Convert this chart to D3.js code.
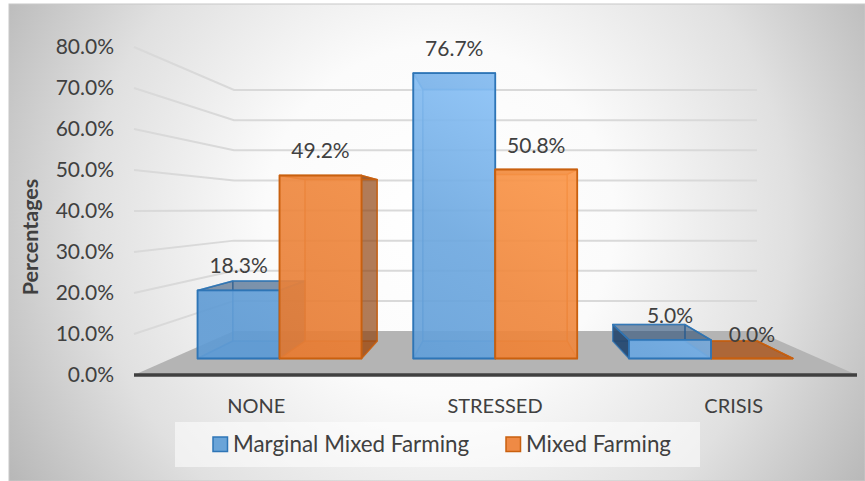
<!DOCTYPE html>
<html>
<head>
<meta charset="utf-8">
<script src="https://cdn.jsdelivr.net/npm/d3@7/dist/d3.min.js"></script>
<style>
html,body{margin:0;padding:0;background:#fff}
svg{display:block}
text{font-family:Lato,"Open Sans",sans-serif;fill:#404040}
</style>
</head>
<body>
<div id="chart"></div>
<script>
const categories = ["NONE", "STRESSED", "CRISIS"];
const seriesNames = ["Marginal Mixed Farming", "Mixed Farming"];
const marginalMixed = [18.3, 76.7, 5.0];
const mixedFarming = [49.2, 50.8, 0.0];
const valueTicks = [0, 10, 20, 30, 40, 50, 60, 70, 80];

const width = 865, height = 481;
const svg = d3.select("#chart").append("svg").attr("width", width).attr("height", height);
const defs = svg.append("defs");

// Panel background: soft radial sheen
const sheen = defs.append("radialGradient").attr("id", "sheen")
  .attr("gradientUnits", "userSpaceOnUse").attr("cx", 440).attr("cy", 220).attr("r", 500);
[[0, "#ffffff"], [0.35, "#fbfbfb"], [0.7, "#e0e0e0"], [1, "#b8b8b8"]].forEach(([o, c]) =>
  sheen.append("stop").attr("offset", o).attr("stop-color", c));

// Bar fronts brighten towards the upper right of the plot
function diagonalFill(id, stops) {
  const g = defs.append("linearGradient").attr("id", id)
    .attr("gradientUnits", "userSpaceOnUse")
    .attr("x1", 300).attr("y1", 365).attr("x2", 480).attr("y2", 65);
  stops.forEach(([o, c]) => g.append("stop").attr("offset", o).attr("stop-color", c));
}
diagonalFill("blueFront", [[0, "#5f9bd4"], [0.55, "#6fa9e0"], [1, "#8cc3f8"]]);
diagonalFill("orangeFront", [[0, "#e57c35"], [0.5, "#f0893f"], [1, "#ff9c4e"]]);

svg.append("rect").attr("x", 9).attr("y", 4).attr("width", width - 9).attr("height", height - 4)
  .attr("fill", "url(#sheen)").attr("stroke", "#c8c8c8").attr("stroke-width", 1);

// Depth planes of the 3-D plot: axis plane, bar front, bar back, rear wall
const domain = [0, 80];
const yAxisPlane = d3.scaleLinear().domain(domain).range([375, 47]);
const yWall = d3.scaleLinear().domain(domain).range([331, 90]);
const yBarFront = d3.scaleLinear().domain(domain).range([358.5, 60.9]);
const yBarBack = d3.scaleLinear().domain(domain).range([341, 78.6]);

const bandFront = d3.scaleBand().domain(categories).range([171.7, 818.8]).paddingInner(0.24).paddingOuter(0.12);
const bandBack = d3.scaleBand().domain(categories).range([210, 780]).paddingInner(0.24).paddingOuter(0.12);
const bandLabels = d3.scaleBand().domain(categories).range([137, 853]);

const floorLeftFront = 134, floorRightFront = 857, wallLeft = 234, wallRight = 757;
const line = d3.line();

// Floor
svg.append("path")
  .attr("d", line([[floorLeftFront, yAxisPlane(0)], [wallLeft, yWall(0)], [wallRight, yWall(0)], [floorRightFront, yAxisPlane(0)]]) + "Z")
  .attr("fill", "#b4b4b4");

// Gridlines along the side wall and the rear wall
const grid = svg.append("g").attr("fill", "none").attr("stroke", "#d9d9d9").attr("stroke-width", 2);
valueTicks.filter(t => t > 0).forEach(t => {
  grid.append("path").attr("d", line([[floorLeftFront, yAxisPlane(t)], [wallLeft, yWall(t)], [wallRight, yWall(t)]]));
});

// Value axis labels
svg.append("g").selectAll("text").data(valueTicks).join("text")
  .attr("x", 114).attr("y", d => yAxisPlane(d)).attr("dy", "0.35em")
  .attr("text-anchor", "end").attr("font-size", 21)
  .text(d => d.toFixed(1) + "%");

svg.append("text")
  .attr("transform", "translate(38,237) rotate(-90)")
  .attr("text-anchor", "middle").attr("font-size", 21.5).attr("font-weight", 700)
  .text("Percentages");

const palette = [
  {front: "url(#blueFront)", edge: "#2e75b6", base: "#5b9bd5", dark: "#1f3f66"},
  {front: "url(#orangeFront)", edge: "#c9600f", base: "#ed7d31", dark: "#843c0c"}
];

function drawBar(cat, value, s) {
  const c = palette[s];
  const fw = bandFront.bandwidth() / 2, bw = bandBack.bandwidth() / 2;
  const fl = bandFront(cat) + s * fw, fr = fl + fw;
  const bl = bandBack(cat) + s * bw, br = bl + bw;
  const fy0 = yBarFront(0), fy1 = yBarFront(value), by0 = yBarBack(0), by1 = yBarBack(value);
  const g = svg.append("g").attr("stroke-linejoin", "round");
  const face = (pts, fill, op, strokeOp, sw) => g.append("path")
    .attr("d", line(pts) + "Z").attr("fill", fill).attr("fill-opacity", op)
    .attr("stroke", c.edge).attr("stroke-opacity", strokeOp).attr("stroke-width", sw);

  face([[bl, by0], [br, by0], [fr, fy0], [fl, fy0]], c.base, 0.6, 0.4, 1.5);   // bottom
  face([[bl, by1], [br, by1], [br, by0], [bl, by0]], c.base, 0.2, 0.4, 1.5);   // back
  face([[fl, fy1], [bl, by1], [bl, by0], [fl, fy0]], bl < fl ? c.dark : c.base, bl < fl ? 0.85 : 0.1, 0.6, 1.5);   // left side
  face([[fr, fy1], [br, by1], [br, by0], [fr, fy0]], br > fr ? c.dark : c.base, br > fr ? 0.62 : 0.1, 0.8, 1.5);   // right side
  face([[fl, fy1], [fr, fy1], [br, by1], [bl, by1]], c.dark, 0.5, 0.9, 1.5);   // top
  if (value > 0) face([[fl, fy1], [fr, fy1], [fr, fy0], [fl, fy0]], c.front, 0.9, 1, 1.8);   // front
  else g.append("line").attr("x1", fl).attr("x2", fr).attr("y1", fy0).attr("y2", fy0).attr("stroke", c.edge).attr("stroke-width", 1.8);
}

// Painter's order: on the left of the view the first series lies behind, on the right the second does
const series = [marginalMixed, mixedFarming];
categories.forEach((cat, i) => {
  const order = i === categories.length - 1 ? [1, 0] : [0, 1];
  order.forEach(s => drawBar(cat, series[s][i], s));
});

// Value labels above the front edge of each bar
series.forEach((vals, s) => {
  svg.append("g").selectAll("text").data(categories).join("text")
    .attr("x", d => bandFront(d) + (s + 0.5) * bandFront.bandwidth() / 2)
    .attr("y", (d, i) => yBarFront(vals[i]) - 17)
    .attr("text-anchor", "middle").attr("font-size", 21)
    .text((d, i) => vals[i].toFixed(1) + "%");
});

// Solid axis line at the front of the floor
svg.append("line").attr("x1", floorLeftFront).attr("x2", floorRightFront)
  .attr("y1", yAxisPlane(0)).attr("y2", yAxisPlane(0))
  .attr("stroke", "#404040").attr("stroke-width", 3.5);

// Category labels
svg.append("g").selectAll("text").data(categories).join("text")
  .attr("x", d => bandLabels(d) + bandLabels.bandwidth() / 2).attr("y", 412.5)
  .attr("text-anchor", "middle").attr("font-size", 20)
  .text(d => d);

// Legend
svg.append("rect").attr("x", 175).attr("y", 422).attr("width", 525).attr("height", 45)
  .attr("fill", "#ffffff").attr("fill-opacity", 0.55);
const legendX = [213, 506];
seriesNames.forEach((name, s) => {
  svg.append("rect").attr("x", legendX[s]).attr("y", 437).attr("width", 14.5).attr("height", 14.5)
    .attr("fill", palette[s].base).attr("fill-opacity", 0.9)
    .attr("stroke", palette[s].edge).attr("stroke-width", 1.5);
  svg.append("text").attr("x", legendX[s] + 20).attr("y", 451.5)
    .attr("font-size", 22.4).text(name);
});
</script>
</body>
</html>
